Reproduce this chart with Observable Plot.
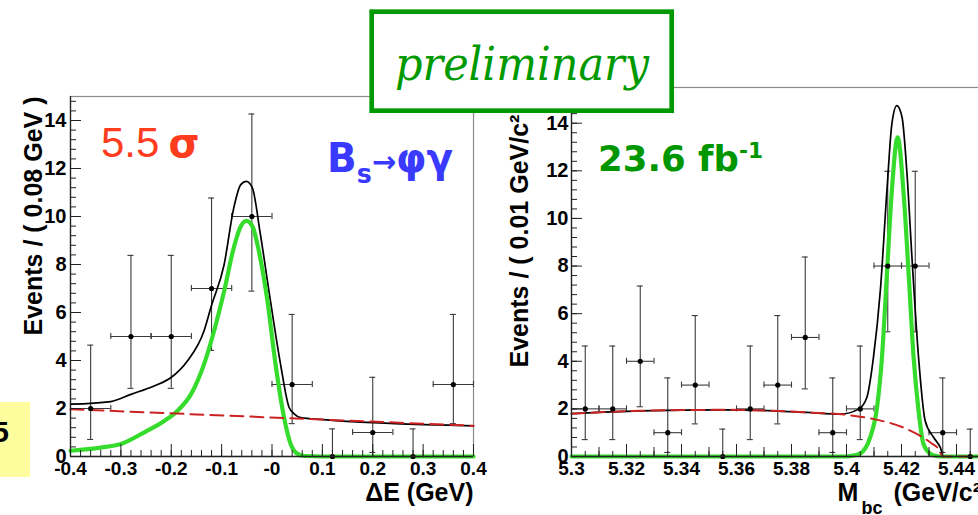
<!DOCTYPE html>
<html><head><meta charset="utf-8">
<script src="https://cdn.jsdelivr.net/npm/d3@7"></script>
<script src="https://cdn.jsdelivr.net/npm/@observablehq/plot@0.6"></script>
<style>
html,body{margin:0;padding:0;background:#fff;overflow:hidden;}
#wrap{position:relative;width:978px;height:515px;overflow:hidden;background:#fff;}
#wrap svg{position:absolute;top:0;}
</style></head>
<body><div id="wrap"></div>
<script>
// ---------- ΔE panel data ----------
const dEBinCenters = [-0.36, -0.28, -0.2, -0.12, -0.04, 0.04, 0.12, 0.2, 0.28, 0.36];
const dECounts     = [2, 5, 5, 7, 10, 3, 0, 1, 0, 3];
const dEErrLo      = [0.71, 2.84, 2.84, 4.42, 6.89, 1.37, 0, 0.17, 0, 1.37];
const dEErrHi      = [4.64, 8.38, 8.38, 10.77, 14.27, 5.92, 1.15, 3.3, 1.15, 5.92];
const dEHalfBin = 0.04;

const dESignalX = [-0.40,-0.34,-0.30,-0.25,-0.214,-0.188,-0.161,-0.135,-0.115,-0.095,-0.076,-0.062,-0.051,-0.039,-0.026,-0.009,0.007,0.024,0.037,0.05,0.065,0.1,0.4];
const dESignalY = [0.24,0.37,0.52,1.05,1.48,1.9,2.59,3.84,5.23,6.89,8.69,9.59,9.82,9.6,8.55,6.47,3.85,1.62,0.52,0.12,0.02,0,0];
const dETotalX  = [-0.40,-0.32,-0.28,-0.234,-0.201,-0.168,-0.135,-0.12,-0.095,-0.076,-0.062,-0.051,-0.039,-0.023,-0.003,0.017,0.034,0.045,0.057,0.08,0.4];
const dETotalY  = [2.18,2.29,2.59,2.94,3.28,3.98,5.23,6.3,8.0,10.35,11.33,11.46,11.19,9.25,6.47,3.84,2.04,1.76,1.62,1.57,1.28];
const dEBkgX    = [-0.4, 0.4];
const dEBkgY    = [1.97, 1.28];

const dETickValues = [-0.4,-0.3,-0.2,-0.1,0,0.1,0.2,0.3,0.4];
const dETickLabels = ["-0.4","-0.3","-0.2","-0.1","-0","0.1","0.2","0.3","0.4"];

// ---------- Mbc panel data ----------
const mbcBinCenters = [5.305,5.315,5.325,5.335,5.345,5.355,5.365,5.375,5.385,5.395,5.405,5.415,5.425,5.435,5.445];
const mbcCounts     = [2,2,4,1,3,0,2,3,5,1,2,8,8,1,0];
const mbcErrLo      = [0.71,0.71,2.09,0.17,1.37,0,0.71,1.37,2.84,0.17,0.71,5.24,5.24,0.17,0];
const mbcErrHi      = [4.64,4.64,7.16,3.3,5.92,1.15,4.64,5.92,8.38,3.3,4.64,11.98,11.98,3.3,1.15];
const mbcHalfBin = 0.005;

const mbcBkgX    = [5.3,5.325,5.355,5.3735,5.3856,5.40,5.41,5.422,5.4305,5.4335,5.435,5.45];
const mbcBkgY    = [1.8,1.92,1.96,1.92,1.85,1.75,1.57,1.15,0.59,0.31,0,0];
const mbcSignalX = [5.3,5.40,5.403,5.405,5.4086,5.4111,5.4129,5.4147,5.4165,5.4186,5.4207,5.4226,5.4244,5.4262,5.428,5.431,5.434,5.45];
const mbcSignalY = [0,0,0.05,0.12,0.8,2.06,4.16,7.67,11.17,13.41,11.17,7.67,4.16,1.92,0.52,0.08,0,0];
const mbcTotalX  = [5.3,5.325,5.355,5.3735,5.3856,5.3977,5.4044,5.4074,5.4098,5.4123,5.4147,5.4165,5.4183,5.4202,5.422,5.4238,5.4262,5.4286,5.4317,5.4341,5.4353,5.45];
const mbcTotalY  = [1.8,1.92,1.96,1.92,1.85,1.78,1.99,2.48,4.16,6.97,11.17,13.97,14.74,14.25,11.87,8.36,4.16,1.5,0.8,0.38,0,0];

const mbcTickValues = [5.3,5.32,5.34,5.36,5.38,5.4,5.42,5.44];
const mbcTickLabels = ["5.3","5.32","5.34","5.36","5.38","5.4","5.42","5.44"];

const yTickValues = [0,2,4,6,8,10,12,14];
const yTickLabels = ["0","2","4","6","8","10","12","14"];

// ---------- styles ----------
const GREEN = "#35dc2c", RED = "#cc2222", BAR = "#3a3a3a";
const FONT = "'Liberation Sans', Arial, Helvetica, sans-serif";

function pts(xs, ys) { return xs.map((x, i) => ({x, y: ys[i]})); }
function bins(c, n, lo, hi, hb) {
  return c.map((x, i) => ({x, n: n[i], lo: lo[i], hi: hi[i], xlo: x - hb, xhi: x + hb}));
}

function panel(o) {
  const data = bins(o.centers, o.counts, o.lo, o.hi, o.halfBin);
  const nz = data.filter(d => d.n > 0);
  const [x0] = o.xDomain;
  return Plot.plot({
    width: o.width, height: 515,
    marginLeft: o.ml, marginRight: o.mr, marginTop: o.mt, marginBottom: 59,
    x: {domain: o.xDomain},
    y: {domain: o.yDomain},
    style: {fontFamily: FONT, fontWeight: "bold", color: "#000", background: "transparent", overflow: "visible"},
    marks: [
      Plot.frame({stroke: "#8a8a8a", strokeWidth: 1.2}),
      // error bars
      Plot.ruleX(data, {x: "x", y1: "lo", y2: "hi", stroke: BAR, strokeWidth: 1.1}),
      Plot.ruleY(data, {y: "hi", x1: "x", x2: "x", insetLeft: -3, insetRight: -3, stroke: BAR, strokeWidth: 1.1}),
      Plot.ruleY(nz, {y: "lo", x1: "x", x2: "x", insetLeft: -3, insetRight: -3, stroke: BAR, strokeWidth: 1.1}),
      Plot.ruleY(nz, {y: "n", x1: "xlo", x2: "xhi", stroke: BAR, strokeWidth: 1.1}),
      Plot.ruleX(nz, {x: "xlo", y1: "n", y2: "n", insetTop: -3, insetBottom: -3, stroke: BAR, strokeWidth: 1.1}),
      Plot.ruleX(nz, {x: "xhi", y1: "n", y2: "n", insetTop: -3, insetBottom: -3, stroke: BAR, strokeWidth: 1.1}),
      // fit curves
      Plot.line(o.total, {x: "x", y: "y", stroke: "#000", strokeWidth: 1.7, curve: "monotone-x"}),
      Plot.line(o.signal, {x: "x", y: "y", stroke: GREEN, strokeWidth: 4.2, curve: "monotone-x"}),
      Plot.line(o.bkg, {x: "x", y: "y", stroke: RED, strokeWidth: 2, strokeDasharray: "13,7", curve: "monotone-x"}),
      // data points
      Plot.dot(data, {x: "x", y: "n", r: 2.6, fill: "#000", stroke: null}),
      // axis lines (left + bottom dark)
      Plot.ruleX([x0], {stroke: "#222", strokeWidth: 1.3}),
      Plot.ruleY([0], {stroke: "#222", strokeWidth: 1.3}),
      // inward ticks x
      ...o.xTickLevels.map(([vals, len]) =>
        Plot.ruleX(vals, {x: d => d, y1: 0, y2: 0, insetTop: -len, stroke: "#222", strokeWidth: 1})),
      // inward ticks y
      Plot.ruleY(o.yMinor, {y: d => d, x1: x0, x2: x0, insetRight: -6, stroke: "#222", strokeWidth: 1}),
      Plot.ruleY(yTickValues, {y: d => d, x1: x0, x2: x0, insetRight: -11, stroke: "#222", strokeWidth: 1}),
      // tick labels
      Plot.axisX({ticks: o.xTickValues, tickFormat: d => o.xTickLabels[o.xTickValues.indexOf(d)],
        tickSize: 0, tickPadding: 5, label: null, fontSize: 19, fontWeight: "bold", anchor: "bottom"}),
      Plot.axisY({ticks: yTickValues, tickFormat: d => yTickLabels[yTickValues.indexOf(d)],
        tickSize: 0, tickPadding: o.yPad, label: null, fontSize: 20, fontWeight: "bold", anchor: "left"}),
      ...o.texts
    ]
  });
}

const dEMinor = d3.range(-0.4, 0.4001, 0.02).map(v => +v.toFixed(3));
const yMinorL = d3.range(0, 15.001, 0.4).map(v => +v.toFixed(2));
const yMinorR = d3.range(0, 15.5, 0.4).map(v => +v.toFixed(2));
const mbcMinor = d3.range(5.3, 5.4501, 0.005).map(v => +v.toFixed(4));
const mbcMid = d3.range(5.3, 5.4501, 0.01).map(v => +v.toFixed(3));

const left = panel({
  width: 490, ml: 70, mr: 17, mt: 96, yPad: 4,
  xDomain: [-0.4, 0.4], yDomain: [0, 15],
  centers: dEBinCenters, counts: dECounts, lo: dEErrLo, hi: dEErrHi, halfBin: dEHalfBin,
  total: pts(dETotalX, dETotalY), signal: pts(dESignalX, dESignalY), bkg: pts(dEBkgX, dEBkgY),
  xTickValues: dETickValues, xTickLabels: dETickLabels,
  xTickLevels: [[dEMinor, 6], [dETickValues, 12]],
  yMinor: yMinorL,
  texts: [
    Plot.text(["ΔE (GeV)"], {frameAnchor: "bottom-right", dy: 44, textAnchor: "end", fontSize: 25, fontWeight: "bold"}),
    Plot.text(["Events / ( 0.08 GeV )"], {frameAnchor: "top-left", dx: -46, rotate: -90, textAnchor: "end", fontSize: 25, fontWeight: "bold"})
  ]
});

const right = panel({
  width: 500, ml: 81, mr: 6.5, mt: 87, yPad: 3,
  xDomain: [5.3, 5.45], yDomain: [0, 15.5],
  centers: mbcBinCenters, counts: mbcCounts, lo: mbcErrLo, hi: mbcErrHi, halfBin: mbcHalfBin,
  total: pts(mbcTotalX, mbcTotalY), signal: pts(mbcSignalX, mbcSignalY), bkg: pts(mbcBkgX, mbcBkgY),
  xTickValues: mbcTickValues, xTickLabels: mbcTickLabels,
  xTickLevels: [[mbcMinor, 5], [mbcMid, 9], [mbcTickValues, 12]],
  yMinor: yMinorR,
  texts: [
    Plot.text(["M"], {frameAnchor: "bottom-left", dx: 266, dy: 44, textAnchor: "start", fontSize: 25, fontWeight: "bold"}),
    Plot.text(["bc"], {frameAnchor: "bottom-left", dx: 290, dy: 57, textAnchor: "start", fontSize: 18, fontWeight: "bold"}),
    Plot.text(["(GeV/c²)"], {frameAnchor: "bottom-left", dx: 322, dy: 44, textAnchor: "start", fontSize: 25, fontWeight: "bold"}),
    Plot.text(["Events / ( 0.01 GeV/c² )"], {frameAnchor: "bottom-left", dx: -44, dy: -89, rotate: -90, textAnchor: "start", fontSize: 25, fontWeight: "bold"})
  ]
});

const wrap = document.getElementById("wrap");
left.style.left = "0px";
right.style.left = "490px";
wrap.appendChild(left);
wrap.appendChild(right);

// ---------- annotations overlay ----------
const ov = d3.select(wrap).append("svg")
  .attr("width", 978).attr("height", 515)
  .style("left", "0px").style("position", "absolute").style("top", "0px");

// yellow side box
ov.append("rect").attr("x", 0).attr("y", 402).attr("width", 30).attr("height", 75).attr("fill", "#fdfd9e");
ov.append("text").attr("x", 9).attr("y", 442).attr("text-anchor", "end")
  .attr("font-family", FONT).attr("font-weight", "bold").attr("font-size", 30).text("5");

// preliminary box
ov.append("rect").attr("x", 371.7).attr("y", 11.7).attr("width", 300).attr("height", 99)
  .attr("fill", "#fff").attr("stroke", "#009a00").attr("stroke-width", 4.7);
ov.append("text").attr("x", 395).attr("y", 80)
  .attr("font-family", "'DejaVu Serif', serif").attr("font-style", "italic").attr("font-size", 46)
  .attr("fill", "#009a00").attr("textLength", 254).attr("lengthAdjust", "spacingAndGlyphs").text("preliminary");

// 5.5 sigma
const sig = ov.append("text").attr("x", 101).attr("y", 157).attr("fill", "#ff3c1e")
  .attr("font-family", FONT).attr("font-size", 42);
sig.append("tspan").text("5.5");
sig.append("tspan").attr("dx", 9).attr("font-family", "'DejaVu Sans', sans-serif").attr("font-weight", "bold").attr("font-size", 40).text("σ");

// Bs -> phi gamma
const bs = ov.append("text").attr("x", 327).attr("y", 172).attr("fill", "#3a3aff")
  .attr("font-family", "'DejaVu Sans', sans-serif").attr("font-weight", "bold").attr("font-size", 40)
  .attr("textLength", 126).attr("lengthAdjust", "spacingAndGlyphs");
bs.append("tspan").text("B");
bs.append("tspan").attr("dy", 11).attr("font-size", 26).text("s");
bs.append("tspan").attr("dy", -11).attr("font-size", 30).text("→");
bs.append("tspan").attr("font-size", 40).text("φγ");

// luminosity
const lum = ov.append("text").attr("x", 598).attr("y", 171).attr("fill", "#009600")
  .attr("font-family", "'DejaVu Sans', sans-serif").attr("font-weight", "bold").attr("font-size", 36)
  .attr("textLength", 165).attr("lengthAdjust", "spacingAndGlyphs");
lum.append("tspan").text("23.6 fb");
lum.append("tspan").attr("dy", -13).attr("font-size", 22).text("-1");
</script>
</body></html>
